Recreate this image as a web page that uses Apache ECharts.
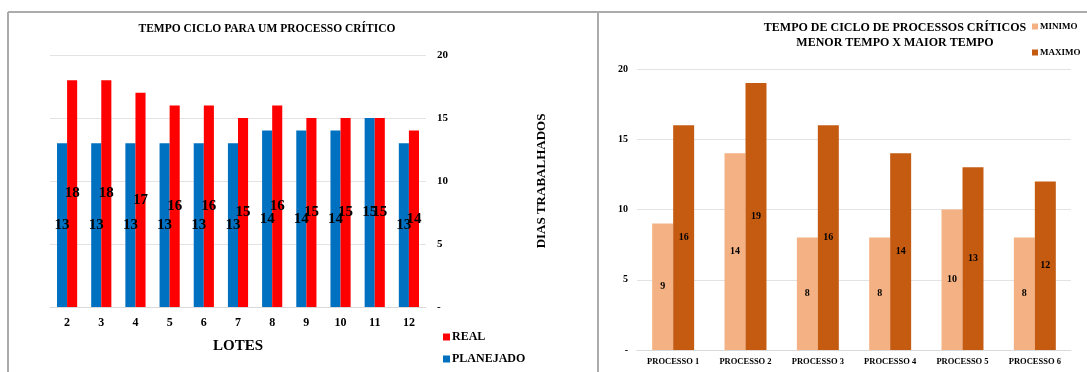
<!DOCTYPE html>
<html>
<head>
<meta charset="utf-8">
<script src="https://cdn.jsdelivr.net/npm/echarts@6/dist/echarts.min.js"></script>
<style>
  html, body { margin: 0; padding: 0; background: #fff; }
  #chart { width: 1087px; height: 372px; }
</style>
</head>
<body>
<div id="chart"></div>
<script>
// Left panel: cycle time per batch
const lotes = ['2', '3', '4', '5', '6', '7', '8', '9', '10', '11', '12'];
const planejado = [13, 13, 13, 13, 13, 13, 14, 14, 14, 15, 13];
const real = [18, 18, 17, 16, 16, 15, 16, 15, 15, 15, 14];

// Right panel: shortest vs longest time per critical process
const processos = ['PROCESSO 1', 'PROCESSO 2', 'PROCESSO 3', 'PROCESSO 4', 'PROCESSO 5', 'PROCESSO 6'];
const minimo = [9, 14, 8, 8, 10, 8];
const maximo = [16, 19, 16, 14, 13, 12];

const yTicks = [0, 5, 10, 15, 20];

const FONT = '"Liberation Serif", "DejaVu Serif", serif';
const GRID_LINE = '#E3E3E3';
const BORDER = '#ABABAB';

const tickFmt = v => (v === 0 ? '-' : String(v));

// one single-entry legend per series so each sits exactly where wanted
function legendItem(name, left, top, size, fontSize) {
  return {
    data: [name], left: left, top: top, padding: 0,
    itemWidth: size, itemHeight: size, icon: 'rect',
    textStyle: { fontFamily: FONT, fontWeight: 'bold', fontSize: fontSize, color: '#000', padding: [0, 0, 0, -3] }
  };
}

const chart = echarts.init(document.getElementById('chart'), null, { renderer: 'canvas' });

chart.setOption({
  animation: false,
  backgroundColor: '#ffffff',
  textStyle: { fontFamily: FONT },
  title: [
    {
      text: 'TEMPO CICLO PARA UM PROCESSO CRÍTICO',
      left: 262, top: 18, textAlign: 'center',
      textStyle: { fontFamily: FONT, fontWeight: 'bold', fontSize: 11.5, color: '#000' }
    },
    {
      text: 'TEMPO DE CICLO DE PROCESSOS CRÍTICOS\nMENOR TEMPO X MAIOR TEMPO',
      left: 890, top: 15, textAlign: 'center',
      textStyle: { fontFamily: FONT, fontWeight: 'bold', fontSize: 12, lineHeight: 15, color: '#000' }
    }
  ],
  legend: [
    legendItem('REAL', 443, 331, 7, 12),
    legendItem('PLANEJADO', 443, 353, 7, 12),
    legendItem('MINIMO', 1032, 22, 6, 9),
    legendItem('MAXIMO', 1032, 48, 6, 9)
  ],
  grid: [
    { left: 50, right: 661, top: 55, bottom: 65 },
    { left: 637, right: 16, top: 69, bottom: 22 }
  ],
  xAxis: [
    {
      gridIndex: 0, type: 'category', data: lotes,
      name: 'LOTES', nameLocation: 'middle', nameGap: 32,
      nameTextStyle: { fontFamily: FONT, fontWeight: 'bold', fontSize: 15, color: '#000' },
      axisLine: { lineStyle: { color: '#D9D9D9' } },
      axisTick: { show: false },
      axisLabel: { interval: 0, margin: 10, fontFamily: FONT, fontWeight: 'bold', fontSize: 12, color: '#000' }
    },
    {
      gridIndex: 1, type: 'category', data: processos,
      axisLine: { lineStyle: { color: '#D9D9D9' } },
      axisTick: { show: false },
      axisLabel: { interval: 0, margin: 7, fontFamily: FONT, fontWeight: 'bold', fontSize: 8.5, color: '#000' }
    }
  ],
  yAxis: [
    {
      gridIndex: 0, type: 'value', position: 'right',
      min: yTicks[0], max: yTicks[yTicks.length - 1], interval: 5,
      name: 'DIAS TRABALHADOS', nameLocation: 'middle', nameGap: 109, nameRotate: 90,
      nameTextStyle: { fontFamily: FONT, fontWeight: 'bold', fontSize: 13, color: '#000' },
      axisLine: { show: false }, axisTick: { show: false },
      axisLabel: { margin: 11, fontFamily: FONT, fontWeight: 'bold', fontSize: 11, color: '#000', formatter: tickFmt },
      splitLine: { lineStyle: { color: GRID_LINE } }
    },
    {
      gridIndex: 1, type: 'value', position: 'left',
      min: yTicks[0], max: yTicks[yTicks.length - 1], interval: 5,
      axisLine: { show: false }, axisTick: { show: false },
      axisLabel: { margin: 9, fontFamily: FONT, fontWeight: 'bold', fontSize: 10, color: '#000', formatter: tickFmt },
      splitLine: { lineStyle: { color: GRID_LINE } }
    }
  ],
  series: [
    {
      name: 'PLANEJADO', type: 'bar', xAxisIndex: 0, yAxisIndex: 0,
      data: planejado, barGap: '0%', barCategoryGap: '41%',
      itemStyle: { color: '#0070C0' },
      label: { show: true, position: 'inside', fontFamily: FONT, fontWeight: 'bold', fontSize: 15, color: '#000' }
    },
    {
      name: 'REAL', type: 'bar', xAxisIndex: 0, yAxisIndex: 0,
      data: real, barGap: '0%', barCategoryGap: '41%',
      itemStyle: { color: '#FF0000' },
      label: { show: true, position: 'inside', fontFamily: FONT, fontWeight: 'bold', fontSize: 15, color: '#000' }
    },
    {
      name: 'MINIMO', type: 'bar', xAxisIndex: 1, yAxisIndex: 1,
      data: minimo, barGap: '0%', barCategoryGap: '42%',
      itemStyle: { color: '#F4B183' },
      label: { show: true, position: 'inside', fontFamily: FONT, fontWeight: 'bold', fontSize: 10, color: '#000' }
    },
    {
      name: 'MAXIMO', type: 'bar', xAxisIndex: 1, yAxisIndex: 1,
      data: maximo, barGap: '0%', barCategoryGap: '42%',
      itemStyle: { color: '#C55A11' },
      label: { show: true, position: 'inside', fontFamily: FONT, fontWeight: 'bold', fontSize: 10, color: '#000' }
    }
  ],
  graphic: [
    // panel frames
    { type: 'line', shape: { x1: 8, y1: 12, x2: 1087, y2: 12 }, style: { stroke: BORDER, lineWidth: 2 }, silent: true },
    { type: 'line', shape: { x1: 8, y1: 12, x2: 8, y2: 372 }, style: { stroke: BORDER, lineWidth: 2 }, silent: true },
    { type: 'line', shape: { x1: 598, y1: 12, x2: 598, y2: 372 }, style: { stroke: BORDER, lineWidth: 2 }, silent: true }
  ]
});
</script>
</body>
</html>
